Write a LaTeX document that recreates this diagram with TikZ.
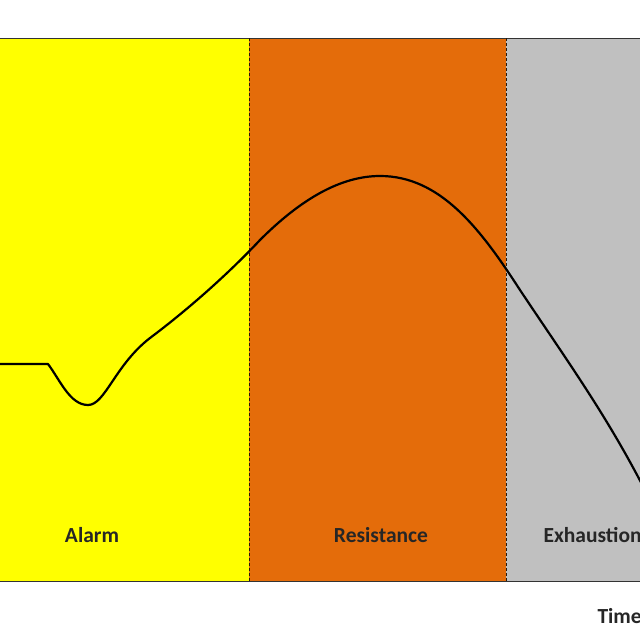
\documentclass[tikz,border=0pt]{standalone}
\usepackage{fontspec}
\setmainfont{Carlito}
\usetikzlibrary{positioning}
\definecolor{alarmyellow}{RGB}{255,255,0}
\definecolor{resistorange}{RGB}{228,108,10}
\definecolor{exhaustgray}{RGB}{192,192,192}

\begin{document}
\begin{tikzpicture}[x=1pt,y=-1pt]

\tikzset{border/.style = {draw=black!80!brown, dash pattern=on 3pt off 2pt, line width=0.9pt}}
\tikzset{label/.style = {font=\fontsize{21.5}{24}\selectfont\bfseries, text=black!85}}

\useasboundingbox (0,0) rectangle (640,640);
\clip (0,0) rectangle (640,640);
\fill[white] (0,0) rectangle (640,640);

%regions
\fill[alarmyellow] (0,38) rectangle (249,581);
\fill[resistorange] (249,38) rectangle (506,581);
\fill[exhaustgray] (506,38) rectangle (645,581);

%frame
\draw[black!80, line width=0.8pt] (-5,38) -- (645,38);
\draw[black!80, line width=0.8pt] (-5,581) -- (645,581);
\draw[border] (249,38) -- (249,581);
\draw[border] (506,38) -- (506,581);

%labels
\node[label] (alarm) at (92,535) {Alarm};
\node[label] (resist) at (381,535) {Resistance};
\node[label, anchor=west] (exhaust) at (540,535) {Exhaustion};
\node[label, anchor=west] (time) at (594,616) {Time};

%curve
\draw[line width=2.2pt, line join=round]
  (-5,364) -- (48,364)
  .. controls (60,380) and (70,405) .. (88,405)
  .. controls (105,405) and (115,365) .. (150,338)
  .. controls (190,308) and (230,272) .. (260,240)
  .. controls (300,200) and (340,176) .. (380,176)
  .. controls (440,176) and (480,228) .. (520,290)
  .. controls (570,365) and (610,420) .. (650,500);

\end{tikzpicture}
\end{document}
